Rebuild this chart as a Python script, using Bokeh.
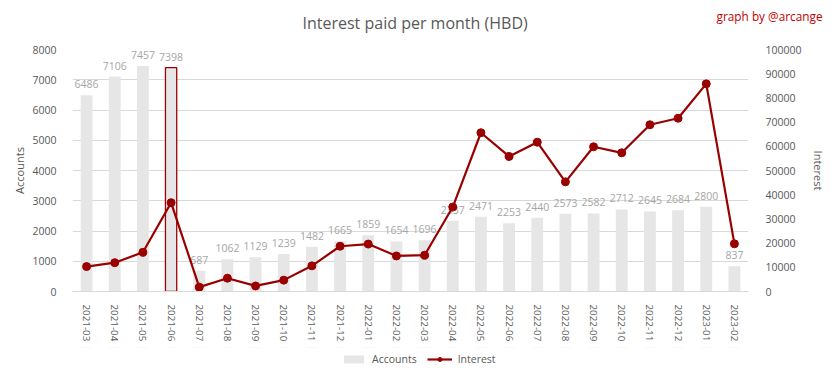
from bokeh.plotting import figure
from bokeh.layouts import column
from bokeh.models import (Range1d, LinearAxis, Legend, LegendItem, Label,
                          ColumnDataSource, FixedTicker, NumeralTickFormatter)
from bokeh.core.properties import value
from bokeh.embed import file_html
from bokeh.resources import INLINE

months = ["2021-03", "2021-04", "2021-05", "2021-06", "2021-07", "2021-08",
          "2021-09", "2021-10", "2021-11", "2021-12", "2022-01", "2022-02",
          "2022-03", "2022-04", "2022-05", "2022-06", "2022-07", "2022-08",
          "2022-09", "2022-10", "2022-11", "2022-12", "2023-01", "2023-02"]
accounts = [6486, 7106, 7457, 7398, 687, 1062, 1129, 1239, 1482, 1665, 1859, 1654,
            1696, 2337, 2471, 2253, 2440, 2573, 2582, 2712, 2645, 2684, 2800, 837]
interest = [10300, 11900, 16200, 36700, 1800, 5500, 2300, 4700, 10600, 18700, 19600, 14700,
            15000, 34900, 65600, 55800, 61700, 45300, 59800, 57300, 68900, 71600, 85800, 19700]
highlight_month = "2021-06"
left_ticks = list(range(0, 8001, 1000))
right_ticks = list(range(0, 100001, 10000))

FONT = "Open Sans"
GRAY_TXT = "#595959"
BAR_COLOR = "#E6E6E6"
LINE_COLOR = "#990000"

src = ColumnDataSource(dict(month=months, accounts=accounts, interest=interest,
                            acc_label=[str(a) for a in accounts]))
hi = months.index(highlight_month)
hsrc = ColumnDataSource(dict(month=[months[hi]], accounts=[accounts[hi]]))

p = figure(x_range=months, y_range=Range1d(0, 8000), width=832, height=347,
           output_backend="svg", toolbar_location=None,
           min_border_left=72, min_border_right=84, min_border_top=49, min_border_bottom=56)
p.outline_line_color = None
p.extra_y_ranges = {"int": Range1d(0, 100000)}

# main title
p.title.text = "Interest paid per month (HBD)"
p.title.align = "left"
p.title.offset = 230
p.title.standoff = 0
p.title.text_font = FONT
p.title.text_font_size = "16px"
p.title.text_font_style = "normal"
p.title.text_color = GRAY_TXT

# credit label in the top panel
credit = Label(x=750, y=34, x_units="screen", y_units="screen",
               text="graph by @arcange", text_align="right", text_baseline="middle",
               text_font=FONT, text_font_size="11.8px", text_color="#C00000")
p.add_layout(credit, "above")

# grid
p.xgrid.grid_line_color = None
p.ygrid.grid_line_color = "#D9D9D9"
p.ygrid.ticker = FixedTicker(ticks=left_ticks)

# left axis
ya = p.yaxis[0]
ya.ticker = FixedTicker(ticks=left_ticks)
ya.formatter = NumeralTickFormatter(format="0")
ya.axis_line_color = None
ya.major_tick_line_color = None
ya.minor_tick_line_color = None
ya.major_label_standoff = 10
ya.major_label_text_font = FONT
ya.major_label_text_font_size = "10.5px"
ya.major_label_text_color = GRAY_TXT
ya.axis_label = "Accounts"
ya.axis_label_text_font = FONT
ya.axis_label_text_font_size = "11px"
ya.axis_label_text_font_style = "normal"
ya.axis_label_text_color = GRAY_TXT
ya.axis_label_standoff = 2

# right axis
ra = LinearAxis(y_range_name="int", ticker=FixedTicker(ticks=right_ticks),
                formatter=NumeralTickFormatter(format="0"))
ra.axis_line_color = None
ra.major_tick_line_color = None
ra.minor_tick_line_color = None
ra.major_label_standoff = 11
ra.major_label_text_font = FONT
ra.major_label_text_font_size = "10.5px"
ra.major_label_text_color = GRAY_TXT
ra.axis_label = "Interest"
ra.axis_label_text_font = FONT
ra.axis_label_text_font_size = "11px"
ra.axis_label_text_font_style = "normal"
ra.axis_label_text_color = GRAY_TXT
ra.axis_label_standoff = 6
p.add_layout(ra, "right")

# x axis
xa = p.xaxis[0]
xa.axis_line_color = "#D9D9D9"
xa.major_tick_line_color = None
xa.minor_tick_line_color = None
xa.major_label_orientation = "vertical"
xa.major_label_standoff = 7
xa.major_label_text_font = FONT
xa.major_label_text_font_size = "9.8px"
xa.major_label_text_color = GRAY_TXT

# bars
p.vbar(x="month", top="accounts", width=0.42, source=src,
       fill_color=BAR_COLOR, line_color=None)
p.vbar(x="month", top="accounts", width=0.40, source=hsrc,
       fill_color=BAR_COLOR, line_color="#A00000", line_width=1.3)

# data labels
p.text(x="month", y="accounts", text="acc_label", source=src,
       text_align="center", text_baseline="bottom", y_offset=-7,
       text_font=value(FONT), text_font_size="10.5px", text_color="#A6A6A6")

# interest line
p.line(x="month", y="interest", source=src, y_range_name="int",
       line_color=LINE_COLOR, line_width=2.2)
p.scatter(x="month", y="interest", source=src, y_range_name="int",
          size=8, fill_color=LINE_COLOR, line_color=LINE_COLOR)

# legend strip below the chart: same series, drawn outside its visible range,
# so only the legend swatches show
lg = figure(width=832, height=32, x_range=months, y_range=Range1d(-2, -1),
            output_backend="svg", toolbar_location=None,
            x_axis_location=None, y_axis_location=None, min_border=0)
lg.outline_line_color = None
lg.xgrid.grid_line_color = None
lg.ygrid.grid_line_color = None
lb = lg.vbar(x="month", top="accounts", width=0.42, source=src,
             fill_color=BAR_COLOR, line_color=None)
ll = lg.line(x="month", y="interest", source=src, line_color=LINE_COLOR, line_width=2.2)
ls = lg.scatter(x="month", y="interest", source=src, size=8,
                fill_color=LINE_COLOR, line_color=LINE_COLOR)
legend = Legend(items=[LegendItem(label="Accounts", renderers=[lb]),
                       LegendItem(label="Interest", renderers=[ll, ls])],
                orientation="horizontal", location=(269, 13),
                border_line_color=None, background_fill_alpha=0,
                glyph_width=25, glyph_height=10, label_height=10,
                label_standoff=6, spacing=10, padding=0, margin=0,
                label_text_font=FONT, label_text_font_size="10.5px",
                label_text_color=GRAY_TXT)
lg.add_layout(legend, "center")

layout = column(p, lg)
open("out.html", "w").write(file_html(layout, INLINE))
